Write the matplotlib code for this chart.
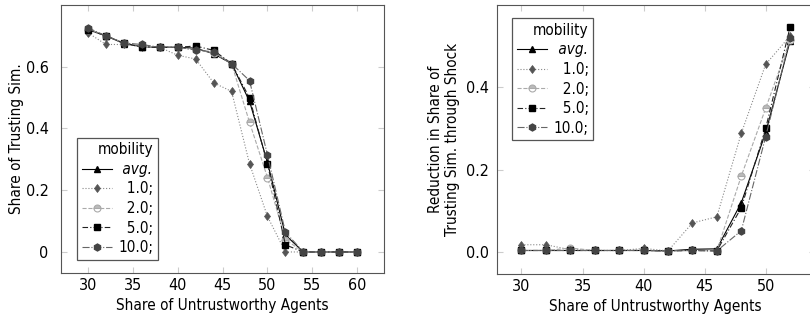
import numpy as np
import matplotlib
matplotlib.use("Agg")
import matplotlib.pyplot as plt

plt.rcParams['font.family'] = ['DejaVu Sans']
plt.rcParams['font.stretch'] = 'condensed'
plt.rcParams['font.size'] = 11

# DATA
# labels padded with figure spaces so they line up on the right
labels = [' avg.', '\u20071.0;', '\u20072.0;', '\u20075.0;', '10.0;']

x_left = [30, 32, 34, 36, 38, 40, 42, 44, 46, 48, 50, 52, 54, 56, 58, 60]
left_avg = [0.72, 0.70, 0.675, 0.665, 0.663, 0.663, 0.66, 0.642, 0.61, 0.488, 0.29, 0.055, 0, 0, 0, 0]
left_m1 = [0.71, 0.672, 0.672, 0.665, 0.663, 0.637, 0.625, 0.548, 0.52, 0.286, 0.115, 0.0, 0, 0, 0, 0]
left_m2 = [0.72, 0.70, 0.677, 0.667, 0.663, 0.663, 0.655, 0.645, 0.61, 0.42, 0.241, 0.04, 0, 0, 0, 0]
left_m5 = [0.72, 0.70, 0.677, 0.663, 0.663, 0.663, 0.667, 0.653, 0.61, 0.499, 0.285, 0.023, 0, 0, 0, 0]
left_m10 = [0.726, 0.70, 0.677, 0.672, 0.663, 0.663, 0.654, 0.648, 0.61, 0.555, 0.314, 0.064, 0, 0, 0, 0]

x_right = [30, 32, 34, 36, 38, 40, 42, 44, 46, 48, 50, 52]
right_avg = [0.003, 0.003, 0.003, 0.003, 0.003, 0.003, 0.002, 0.006, 0.007, 0.119, 0.29, 0.513]
right_m1 = [0.017, 0.017, 0.005, 0.003, 0.003, 0.008, 0.002, 0.07, 0.085, 0.288, 0.456, 0.525]
right_m2 = [0.003, 0.003, 0.009, 0.003, 0.003, 0.004, 0.002, 0.003, 0.002, 0.184, 0.349, 0.515]
right_m5 = [0.003, 0.003, 0.003, 0.003, 0.003, 0.003, 0.002, 0.003, 0.002, 0.107, 0.30, 0.547]
right_m10 = [0.003, 0.003, 0.003, 0.003, 0.003, 0.003, 0.002, 0.003, 0.002, 0.051, 0.28, 0.52]

styles = [
    dict(color='black', ls='-', lw=0.8, marker='^', ms=4, mfc='black', mec='black'),
    dict(color='#888888', ls=':', lw=0.8, marker='d', ms=4.5, mfc='#555555', mec='#555555', mew=0.5),
    dict(color='#aaaaaa', ls='--', lw=0.8, marker='o', ms=5, mfc='#bbbbbb', mec='#aaaaaa',
         fillstyle='top', markerfacecoloralt='white', mew=0.8),
    dict(color='#222222', ls=(0, (5, 2, 1, 2)), lw=0.8, marker='s', ms=5, mfc='black', mec='black'),
    dict(color='#666666', ls='-.', lw=0.8, marker='h', ms=5, mfc='#444444', mec='#444444'),
]

fig = plt.figure(figsize=(8.1, 3.2), dpi=100)
ax1 = fig.add_axes([0.0753, 0.147, 0.399, 0.8375])
ax2 = fig.add_axes([0.6136, 0.144, 0.392, 0.84])

for ys, st, lab in zip([left_avg, left_m1, left_m2, left_m5, left_m10], styles, labels):
    ax1.plot(x_left, ys, label=lab, **st)
for ys, st, lab in zip([right_avg, right_m1, right_m2, right_m5, right_m10], styles, labels):
    ax2.plot(x_right, ys, label=lab, **st)

ax1.set_xlim(27, 63)
ax1.set_ylim(-0.068, 0.80)
ax1.set_xticks([30, 35, 40, 45, 50, 55, 60])
ax1.set_yticks([0, 0.2, 0.4, 0.6])
ax1.set_yticklabels(['0', '0.2', '0.4', '0.6'])
ax1.set_xlabel('Share of Untrustworthy Agents')
ax1.set_ylabel('Share of Trusting Sim.', labelpad=1)

ax2.set_xlim(28, 54)
ax2.set_ylim(-0.054, 0.60)
ax2.set_xticks([30, 35, 40, 45, 50])
ax2.set_yticks([0.0, 0.2, 0.4])
ax2.set_yticklabels(['0.0', '0.2', '0.4'])
ax2.set_xlabel('Share of Untrustworthy Agents')
ax2.set_ylabel('Reduction in Share of\nTrusting Sim. through Shock')

for ax in (ax1, ax2):
    ax.tick_params(direction='in', top=True, right=True, length=4, color='#cccccc', labelsize=11.5)
    for sp in ax.spines.values():
        sp.set_color('#555555')
ax1.tick_params(axis='y', pad=9)
ax2.tick_params(axis='y', pad=6)


def make_legend(ax, loc, anchor):
    leg = ax.legend(title='mobility', loc=loc, bbox_to_anchor=anchor, fancybox=False,
                    edgecolor='#555555', fontsize=11, title_fontsize=11,
                    handlelength=2.0, handletextpad=0.4, borderpad=0.3, borderaxespad=0,
                    labelspacing=0.3, alignment='right', framealpha=1)
    leg.get_frame().set_linewidth(0.9)
    leg.get_texts()[0].set_style('italic')
    return leg


make_legend(ax1, 'lower left', (0.05, 0.049))
make_legend(ax2, 'upper left', (0.048, 0.951))

fig.savefig('out.png', dpi=100)
